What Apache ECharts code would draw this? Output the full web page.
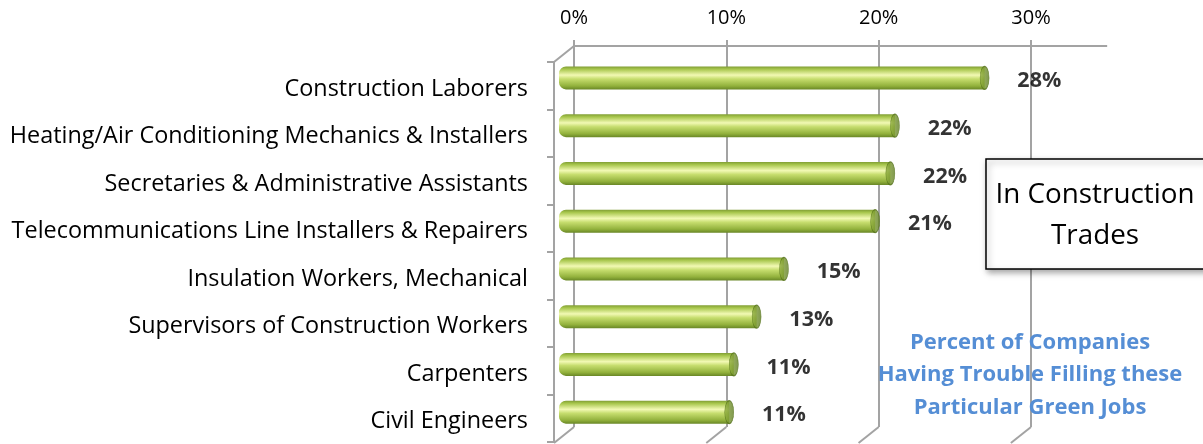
<!DOCTYPE html>
<html>
<head>
<meta charset="utf-8">
<script src="https://cdn.jsdelivr.net/npm/echarts@6/dist/echarts.min.js"></script>
<style>
  html, body { margin: 0; padding: 0; background: #fff; }
  #chart { width: 1203px; height: 444px; }
</style>
</head>
<body>
<div id="chart"></div>
<script>
// categories, top to bottom
const jobs = [
    'Construction Laborers',
    'Heating/Air Conditioning Mechanics & Installers',
    'Secretaries & Administrative Assistants',
    'Telecommunications Line Installers & Repairers',
    'Insulation Workers, Mechanical',
    'Supervisors of Construction Workers',
    'Carpenters',
    'Civil Engineers'
];
// bar lengths (percent)
const shares = [28.0, 22.1, 21.8, 20.8, 14.8, 13.0, 11.5, 11.2];
// the percentages printed beside the bars
const shareLabels = ['28%', '22%', '22%', '21%', '15%', '13%', '11%', '11%'];
const axisTicks = [0, 10, 20, 30];

const FONT = '"Open Sans"';
const GRID_GREY = '#a3a3a3';

var chartDom = document.getElementById('chart');
var myChart = echarts.init(chartDom);
var option;

const barGradient = new echarts.graphic.LinearGradient(0, 0, 0, 1, [
    { offset: 0, color: '#7f9c33' },
    { offset: 0.12, color: '#a7c64c' },
    { offset: 0.38, color: '#f2f9b4' },
    { offset: 0.55, color: '#c6dd6e' },
    { offset: 0.85, color: '#92b13c' },
    { offset: 1, color: '#6a8827' }
]);
const capGradient = new echarts.graphic.LinearGradient(0, 0, 1, 0, [
    { offset: 0, color: '#8fae3c' },
    { offset: 1, color: '#5f7d22' }
]);

option = {
    animation: false,
    grid: [
        // back wall: gridlines + top axis
        { left: 574, top: 46, width: 457, height: 381 },
        // front wall: category labels
        { left: 554, top: 62, width: 533, height: 380 },
        // bars sit half way in depth
        { left: 559, top: 54, width: 532, height: 382 }
    ],
    xAxis: [
        {
            gridIndex: 0, type: 'value', position: 'top', min: 0, max: 30, interval: 10,
            axisLine: { show: true, lineStyle: { color: GRID_GREY, width: 2 } },
            axisTick: { show: true, length: 6, lineStyle: { color: GRID_GREY, width: 2 } },
            splitLine: { show: true, lineStyle: { color: GRID_GREY, width: 2 } },
            axisLabel: { formatter: '{value}%', color: '#000', fontFamily: FONT, fontSize: 20, margin: 18 }
        },
        { gridIndex: 1, type: 'value', min: 0, max: 35, show: false },
        { gridIndex: 2, type: 'value', min: 0, max: 35, show: false }
    ],
    yAxis: [
        { gridIndex: 0, type: 'category', data: jobs, inverse: true, show: false },
        {
            gridIndex: 1, type: 'category', data: jobs, inverse: true,
            axisLine: { show: true, lineStyle: { color: GRID_GREY, width: 2 } },
            axisTick: { show: true, length: 7, lineStyle: { color: GRID_GREY, width: 2 } },
            axisLabel: {
                margin: 26,
                formatter: function (v) { return '{job|' + v + '}'; },
                rich: {
                    job: { color: '#000', fontFamily: FONT, fontSize: 23.4, padding: [7, 0, 0, 0] }
                }
            }
        },
        { gridIndex: 2, type: 'category', data: jobs, inverse: true, show: false }
    ],
    series: [
        {
            name: 'Share',
            type: 'bar',
            xAxisIndex: 2,
            yAxisIndex: 2,
            data: shares,
            barWidth: 23,
            itemStyle: { color: barGradient, borderRadius: [7, 0, 0, 7] },
            z: 3
        },
        {
            name: 'Cap',
            type: 'scatter',
            xAxisIndex: 2,
            yAxisIndex: 2,
            data: shares.map(function (v, i) { return [v, i]; }),
            symbol: 'circle',
            symbolSize: [9, 23],
            itemStyle: { color: capGradient, borderColor: '#55721c', borderWidth: 0.8 },
            label: {
                show: true,
                position: 'right',
                distance: 28,
                offset: [0, 3],
                formatter: function (p) { return shareLabels[p.dataIndex]; },
                color: '#000',
                textBorderWidth: 0,
                fontFamily: FONT,
                fontWeight: 'bold',
                fontSize: 21.5
            },
            z: 4
        }
    ]
};

myChart.setOption(option);

// 3D wall edges, taken from the two axes
function px(axisIdx, v, y) {
    return [myChart.convertToPixel({ xAxisIndex: axisIdx }, v), y];
}
var backTop = 46, backBottom = 427, frontTop = 62, frontBottom = 443;
var edges = [];
edges.push({ a: px(1, 0, frontTop), b: px(0, 0, backTop) });
axisTicks.forEach(function (t) {
    edges.push({ a: px(0, t, backBottom), b: px(1, t, frontBottom) });
});
var topEnd = px(0, 35, backTop);
var graphics = edges.map(function (e) {
    return {
        type: 'line',
        shape: { x1: e.a[0], y1: e.a[1], x2: e.b[0], y2: e.b[1] },
        style: { stroke: GRID_GREY, lineWidth: 2 },
        z: 1
    };
});
graphics.push({
    type: 'line',
    shape: { x1: px(0, 30, backTop)[0], y1: backTop, x2: topEnd[0], y2: backTop },
    style: { stroke: GRID_GREY, lineWidth: 2 },
    z: 1
});
// text box
graphics.push({
    type: 'rect',
    shape: { x: 986, y: 159, width: 240, height: 110 },
    style: { fill: '#fff', stroke: '#000', lineWidth: 1.5, shadowBlur: 6, shadowOffsetX: 2, shadowOffsetY: 3, shadowColor: 'rgba(0,0,0,0.35)' },
    z: 10
});
graphics.push({
    type: 'text',
    x: 1095, y: 216,
    style: {
        text: 'In Construction\nTrades', fill: '#000', font: '27.8px ' + FONT,
        align: 'center', verticalAlign: 'middle', lineHeight: 41
    },
    z: 11
});
graphics.push({
    type: 'text',
    x: 1030, y: 375,
    style: {
        text: 'Percent of Companies\nHaving Trouble Filling these\nParticular Green Jobs',
        fill: '#558ed5', font: 'bold 22px ' + FONT,
        align: 'center', verticalAlign: 'middle', lineHeight: 32.5
    },
    z: 11
});
myChart.setOption({ graphic: graphics });
</script>
</body>
</html>
